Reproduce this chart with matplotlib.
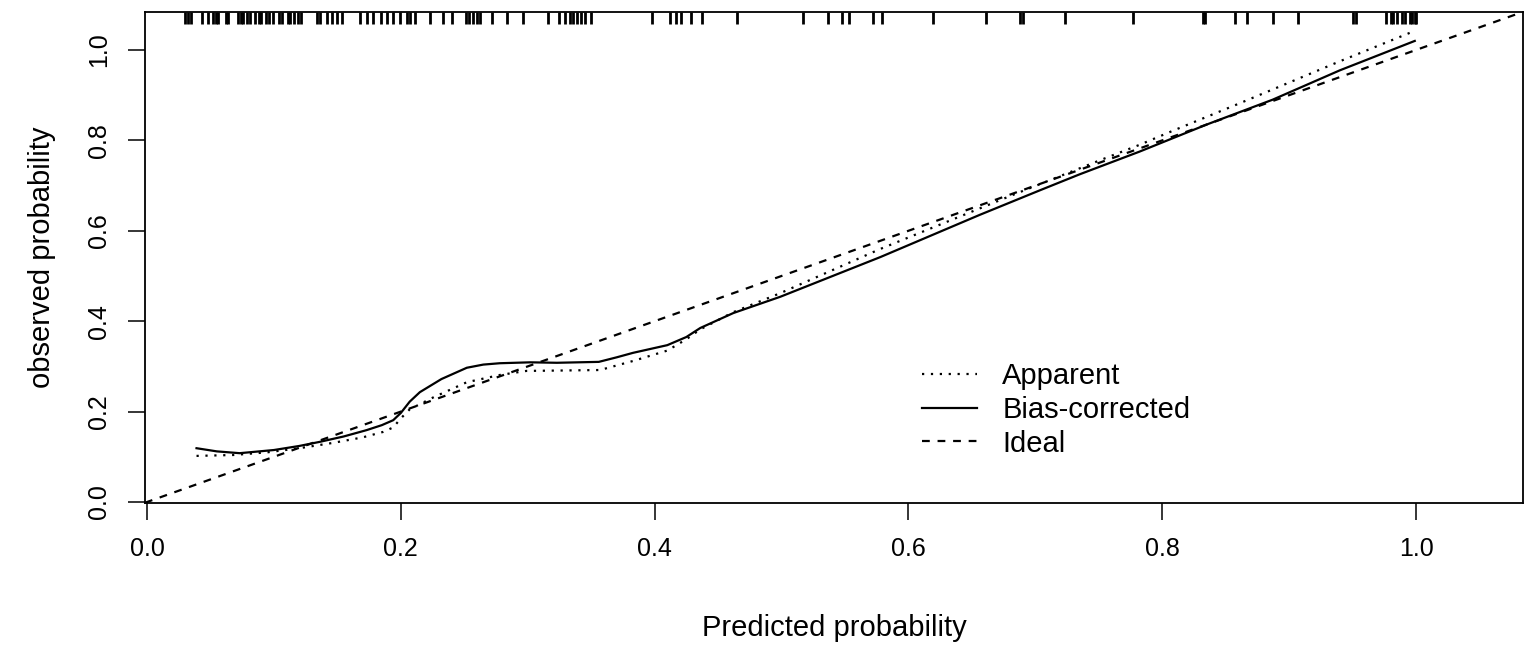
import matplotlib
matplotlib.use('Agg')
import matplotlib.pyplot as plt

plt.rcParams['font.family'] = ['Liberation Sans', 'DejaVu Sans']

# apparent calibration curve (dotted)
apparent_x = [0.039, 0.068, 0.095, 0.12, 0.147, 0.17, 0.186, 0.194, 0.200, 0.207, 0.226, 0.252,
              0.278, 0.299, 0.33, 0.357, 0.383, 0.41, 0.425, 0.436, 0.462, 0.499, 0.578, 0.682,
              0.75, 0.782, 0.809, 0.861, 0.94, 0.997]
apparent_y = [0.102, 0.104, 0.110, 0.119, 0.131, 0.143, 0.155, 0.165, 0.185, 0.205, 0.232, 0.265,
              0.281, 0.290, 0.291, 0.292, 0.312, 0.335, 0.360, 0.382, 0.420, 0.462, 0.560, 0.679,
              0.755, 0.790, 0.822, 0.882, 0.975, 1.040]

# bias-corrected calibration curve (solid)
corrected_x = [0.039, 0.055, 0.073, 0.10, 0.12, 0.136, 0.155, 0.173, 0.185, 0.194, 0.200, 0.207,
               0.215, 0.232, 0.252, 0.265, 0.278, 0.302, 0.323, 0.356, 0.37, 0.383, 0.41, 0.425,
               0.436, 0.462, 0.499, 0.578, 0.656, 0.704, 0.735, 0.782, 0.835, 0.887, 0.94, 0.999]
corrected_y = [0.119, 0.112, 0.108, 0.115, 0.124, 0.133, 0.145, 0.159, 0.170, 0.181, 0.197, 0.222,
               0.243, 0.272, 0.297, 0.304, 0.307, 0.309, 0.308, 0.310, 0.320, 0.330, 0.347, 0.365,
               0.385, 0.418, 0.454, 0.542, 0.635, 0.690, 0.725, 0.775, 0.835, 0.890, 0.955, 1.020]

# predicted probabilities shown as rug at the top
rug = [0.030, 0.032, 0.035, 0.043, 0.048, 0.052, 0.054, 0.056, 0.062, 0.064, 0.072, 0.074, 0.076,
       0.079, 0.081, 0.085, 0.088, 0.090, 0.094, 0.096, 0.099, 0.104, 0.106, 0.111, 0.113, 0.116,
       0.119, 0.121, 0.134, 0.136, 0.142, 0.146, 0.150, 0.154, 0.168, 0.173, 0.178, 0.184, 0.189,
       0.194, 0.199, 0.205, 0.207, 0.211, 0.223, 0.233, 0.240, 0.251, 0.254, 0.257, 0.260, 0.262,
       0.272, 0.284, 0.296, 0.316, 0.325, 0.329, 0.333, 0.336, 0.339, 0.342, 0.345, 0.350, 0.398,
       0.412, 0.417, 0.421, 0.429, 0.437, 0.465, 0.517, 0.537, 0.548, 0.553, 0.572, 0.579, 0.619,
       0.661, 0.688, 0.690, 0.723, 0.777, 0.832, 0.834, 0.857, 0.867, 0.887, 0.907, 0.950, 0.953,
       0.976, 0.980, 0.982, 0.985, 0.989, 0.991, 0.995, 0.997, 0.999, 1.000]

fig = plt.figure(figsize=(15.35, 6.64), dpi=100)
ax = fig.add_axes([145 / 1535, 1 - 503 / 664, 1378 / 1535, 491 / 664])

ax.plot(apparent_x, apparent_y, color='black', lw=1.6, linestyle=(0, (1, 3)), label='Apparent')
ax.plot(corrected_x, corrected_y, color='black', lw=1.6, linestyle='-', label='Bias-corrected')
ax.axline((0, 0), slope=1, color='black', lw=1.6, linestyle=(0, (3.5, 3.5)), label='Ideal')

# rug of predictions along the top edge
ax.vlines(rug, 0.975, 1.0, transform=ax.get_xaxis_transform(), color='black', lw=2)

ax.set_xlim(-0.0016, 1.0843)
ax.set_ylim(-0.0022, 1.084)
ticks = [0.0, 0.2, 0.4, 0.6, 0.8, 1.0]
ax.set_xticks(ticks)
ax.set_yticks(ticks)
ax.set_xticklabels(['%.1f' % t for t in ticks])
ax.set_yticklabels(['%.1f' % t for t in ticks], rotation=90, va='center')
ax.tick_params(axis='both', direction='out', length=12.5, width=1.1, labelsize=18, pad=12)
for s in ax.spines.values():
    s.set_linewidth(1.3)

ax.set_xlabel('Predicted probability', fontsize=21, labelpad=38)
ax.set_ylabel('observed probability', fontsize=21, labelpad=22)

ax.legend(loc='upper left', bbox_to_anchor=(922 / 1535, 1 - 362 / 664),
          bbox_transform=fig.transFigure, frameon=False, fontsize=21,
          handlelength=1.9, handletextpad=0.85, labelspacing=0.2,
          borderpad=0, borderaxespad=0)

fig.savefig('out.png', dpi=100)
